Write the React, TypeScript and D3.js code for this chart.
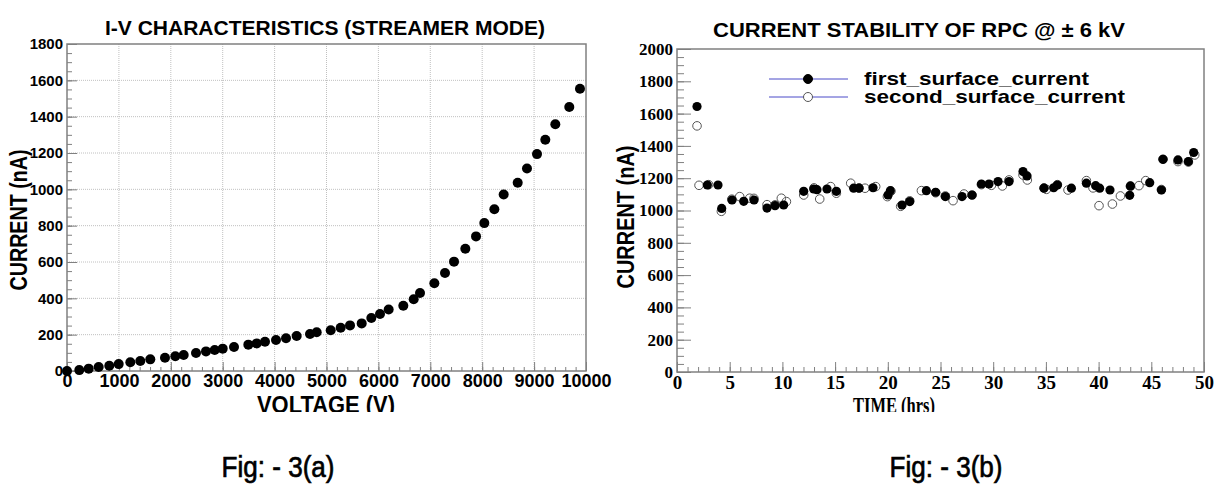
import { useEffect, useRef } from 'react';
import * as d3 from 'd3';

// Fig 3(a): I-V curve
const ivVoltage = [0, 237, 418, 610, 815, 996, 1220, 1412, 1605, 1888, 2087, 2248, 2486, 2678, 2846, 3000, 3218, 3494, 3655, 3815, 4027, 4220, 4425, 4682, 4811, 5081, 5273, 5453, 5678, 5864, 6031, 6198, 6480, 6680, 6802, 7078, 7283, 7457, 7675, 7881, 8041, 8234, 8414, 8684, 8863, 9056, 9216, 9409, 9678, 9884];
const ivCurrent = [0, 5, 13, 22, 29, 38, 48, 55, 64, 73, 81, 88, 99, 108, 116, 123, 132, 145, 152, 161, 171, 180, 193, 204, 213, 224, 238, 251, 262, 292, 314, 339, 359, 395, 429, 483, 539, 602, 673, 741, 814, 890, 972, 1036, 1115, 1194, 1273, 1358, 1453, 1554];
const ivXTicks = [0, 1000, 2000, 3000, 4000, 5000, 6000, 7000, 8000, 9000, 10000];
const ivYTicks = [0, 200, 400, 600, 800, 1000, 1200, 1400, 1600, 1800];

// Fig 3(b): current stability
const firstTime = [1.9, 2.88, 3.89, 4.24, 5.22, 6.33, 7.31, 8.54, 9.3, 10.12, 12.02, 12.97, 13.28, 14.23, 15.12, 16.76, 17.27, 18.6, 20.02, 20.24, 21.35, 22.08, 23.66, 24.54, 25.46, 27.04, 27.99, 28.88, 29.6, 30.46, 31.5, 32.83, 33.21, 34.82, 35.74, 36.09, 37.42, 38.84, 39.72, 40.1, 41.08, 42.95, 43.02, 44.85, 45.96, 46.11, 47.53, 48.52, 49.02];
const firstCurrent = [1644, 1158, 1158, 1013, 1065, 1057, 1065, 1015, 1030, 1034, 1119, 1133, 1129, 1133, 1119, 1138, 1138, 1141, 1096, 1123, 1034, 1055, 1123, 1113, 1086, 1086, 1096, 1164, 1164, 1179, 1179, 1241, 1214, 1138, 1141, 1158, 1138, 1169, 1154, 1138, 1127, 1094, 1152, 1172, 1127, 1317, 1313, 1303, 1359];
const secondTime = [1.9, 2.09, 3.0, 4.21, 5.2, 5.95, 6.9, 7.3, 8.54, 9.3, 9.9, 10.38, 12.02, 13.0, 13.54, 14.58, 15.12, 16.48, 17.27, 17.84, 18.85, 19.96, 20.3, 21.22, 22.08, 23.19, 24.54, 25.46, 26.19, 27.23, 28.0, 28.88, 29.83, 30.87, 31.5, 32.83, 33.24, 34.82, 35.05, 36.09, 37.1, 38.84, 39.47, 40.04, 41.31, 42.07, 43.02, 43.83, 44.47, 45.96, 46.11, 47.53, 48.52, 49.12];
const secondCurrent = [1524, 1156, 1160, 995, 1070, 1086, 1076, 1075, 1036, 1035, 1076, 1055, 1096, 1140, 1071, 1148, 1107, 1169, 1140, 1138, 1148, 1086, 1120, 1026, 1060, 1123, 1110, 1090, 1061, 1102, 1095, 1160, 1156, 1152, 1189, 1220, 1189, 1140, 1131, 1160, 1127, 1185, 1140, 1030, 1040, 1090, 1150, 1154, 1185, 1130, 1317, 1303, 1300, 1344];
const timeTicks = [0, 5, 10, 15, 20, 25, 30, 35, 40, 45, 50];
const stabYTicks = [0, 200, 400, 600, 800, 1000, 1200, 1400, 1600, 1800, 2000];
const legendLabels = ['first_surface_current', 'second_surface_current'];

const SANS = '"Liberation Sans", Arial, sans-serif';
const SERIF = '"Liberation Serif", "Times New Roman", serif';
const FRAME = '#808080';

export default function App() {
  const svgRef = useRef<SVGSVGElement>(null);

  useEffect(() => {
    if (!svgRef.current) return;
    const svg = d3.select(svgRef.current);
    svg.selectAll('*').remove();

    // ---------- left panel ----------
    const xL = d3.scaleLinear().domain([0, 10000]).range([67, 586]);
    const yL = d3.scaleLinear().domain([0, 1800]).range([371, 44]);

    // grid
    const grid = svg.append('g').attr('stroke', '#b0b0b0').attr('stroke-dasharray', '1,1').attr('stroke-width', 0.8);
    grid.selectAll('line.v').data(ivXTicks.slice(1, -1)).join('line')
      .attr('x1', d => xL(d)).attr('x2', d => xL(d)).attr('y1', yL(0)).attr('y2', yL(1800));
    grid.selectAll('line.h').data(ivYTicks.slice(1, -1)).join('line')
      .attr('x1', xL(0)).attr('x2', xL(10000)).attr('y1', d => yL(d)).attr('y2', d => yL(d));

    const styleAxis = (g: any, font: string, size: number) => {
      g.attr('font-family', font);
      g.select('.domain').remove();
      g.selectAll('.tick line').attr('stroke', FRAME);
      g.selectAll('text').attr('fill', '#000').attr('font-family', font).attr('font-size', size).attr('font-weight', 'bold');
    };

    svg.append('g').attr('transform', `translate(0,${yL(0)})`)
      .call(d3.axisBottom(xL).tickValues(d3.range(0, 10001, 200)).tickSize(-4).tickFormat(() => ''))
      .call((g: any) => styleAxis(g, SANS, 18));
    svg.append('g').attr('transform', `translate(0,${yL(0)})`)
      .call(d3.axisBottom(xL).tickValues(ivXTicks).tickSize(-9).tickPadding(3).tickFormat(d3.format('d')))
      .call((g: any) => styleAxis(g, SANS, 18));
    svg.append('g').attr('transform', `translate(${xL(0)},0)`)
      .call(d3.axisLeft(yL).tickValues(d3.range(0, 1801, 50)).tickSize(-5).tickFormat(() => ''))
      .call((g: any) => styleAxis(g, SANS, 15));
    svg.append('g').attr('transform', `translate(${xL(0)},0)`)
      .call(d3.axisLeft(yL).tickValues(ivYTicks).tickSize(-10).tickPadding(4).tickFormat(d3.format('d')))
      .call((g: any) => styleAxis(g, SANS, 15));

    svg.append('rect').attr('x', xL(0)).attr('y', yL(1800)).attr('width', xL(10000) - xL(0)).attr('height', yL(0) - yL(1800))
      .attr('fill', 'none').attr('stroke', FRAME).attr('stroke-width', 1.5);

    svg.append('g').selectAll('circle').data(ivVoltage).join('circle')
      .attr('cx', d => xL(d)).attr('cy', (_, i) => yL(ivCurrent[i])).attr('r', 5).attr('fill', '#000');

    svg.append('text').attr('x', 325).attr('y', 35).attr('text-anchor', 'middle')
      .attr('font-family', SANS).attr('font-size', 20).attr('font-weight', 'bold')
      .attr('textLength', 440).attr('lengthAdjust', 'spacingAndGlyphs')
      .text('I-V CHARACTERISTICS (STREAMER MODE)');
    svg.append('text').attr('transform', 'translate(27,220) rotate(-90)').attr('text-anchor', 'middle')
      .attr('font-family', SANS).attr('font-size', 24).attr('font-weight', 'bold')
      .attr('textLength', 141).attr('lengthAdjust', 'spacingAndGlyphs')
      .text('CURRENT (nA)');

    // clipped axis titles (bottom is cut in the original)
    const clip = svg.append('defs').append('clipPath').attr('id', 'xtitleclip');
    clip.append('rect').attr('x', 0).attr('y', 380).attr('width', 1225).attr('height', 32);
    svg.append('text').attr('x', 326).attr('y', 413).attr('text-anchor', 'middle').attr('clip-path', 'url(#xtitleclip)')
      .attr('font-family', SANS).attr('font-size', 24).attr('font-weight', 'bold')
      .attr('textLength', 138).attr('lengthAdjust', 'spacingAndGlyphs')
      .text('VOLTAGE (V)');

    // ---------- right panel ----------
    const xR = d3.scaleLinear().domain([0, 50]).range([677, 1204]);
    const yR = d3.scaleLinear().domain([0, 2000]).range([372, 49]);

    svg.append('g').attr('transform', `translate(0,${yR(0)})`)
      .call(d3.axisBottom(xR).tickValues(d3.range(0, 51, 1)).tickSize(-5).tickFormat(() => ''))
      .call((g: any) => styleAxis(g, SERIF, 19));
    svg.append('g').attr('transform', `translate(0,${yR(0)})`)
      .call(d3.axisBottom(xR).tickValues(timeTicks).tickSize(-10).tickPadding(3).tickFormat(d3.format('d')))
      .call((g: any) => styleAxis(g, SERIF, 19));
    svg.append('g').attr('transform', `translate(${xR(0)},0)`)
      .call(d3.axisLeft(yR).tickValues(d3.range(0, 2001, 50)).tickSize(-7).tickFormat(() => ''))
      .call((g: any) => styleAxis(g, SERIF, 17));
    svg.append('g').attr('transform', `translate(${xR(0)},0)`)
      .call(d3.axisLeft(yR).tickValues(stabYTicks).tickSize(-14).tickPadding(4).tickFormat(d3.format('d')))
      .call((g: any) => styleAxis(g, SERIF, 17));

    svg.append('rect').attr('x', xR(0)).attr('y', yR(2000)).attr('width', xR(50) - xR(0)).attr('height', yR(0) - yR(2000))
      .attr('fill', 'none').attr('stroke', FRAME).attr('stroke-width', 1.5);

    svg.append('g').selectAll('circle').data(secondTime).join('circle')
      .attr('cx', d => xR(d)).attr('cy', (_, i) => yR(secondCurrent[i])).attr('r', 4.3)
      .attr('fill', 'none').attr('stroke', '#555').attr('stroke-width', 1);
    svg.append('g').selectAll('circle').data(firstTime).join('circle')
      .attr('cx', d => xR(d)).attr('cy', (_, i) => yR(firstCurrent[i])).attr('r', 4.6).attr('fill', '#000');

    // legend
    const leg = svg.append('g');
    legendLabels.forEach((lab, i) => {
      const ly = 79 + i * 18;
      leg.append('line').attr('x1', 769).attr('x2', 848).attr('y1', ly).attr('y2', ly).attr('stroke', '#4b4bc8').attr('stroke-width', 1);
      leg.append('circle').attr('cx', 808).attr('cy', ly).attr('r', 4.5)
        .attr('fill', i === 0 ? '#000' : '#fff').attr('stroke', i === 0 ? '#000' : '#555').attr('stroke-width', 1);
      leg.append('text').attr('x', 864).attr('y', ly + 6)
        .attr('font-family', SANS).attr('font-size', 19).attr('font-weight', 'bold')
        .attr('textLength', i === 0 ? 225 : 261).attr('lengthAdjust', 'spacingAndGlyphs')
        .text(lab);
    });

    svg.append('text').attr('x', 919).attr('y', 37).attr('text-anchor', 'middle')
      .attr('font-family', SANS).attr('font-size', 20).attr('font-weight', 'bold')
      .attr('textLength', 412).attr('lengthAdjust', 'spacingAndGlyphs')
      .text('CURRENT STABILITY OF RPC @ ± 6 kV');
    svg.append('text').attr('transform', 'translate(634,217) rotate(-90)').attr('text-anchor', 'middle')
      .attr('font-family', SANS).attr('font-size', 24).attr('font-weight', 'bold')
      .attr('textLength', 143).attr('lengthAdjust', 'spacingAndGlyphs')
      .text('CURRENT (nA)');
    svg.append('text').attr('x', 894).attr('y', 413).attr('text-anchor', 'middle').attr('clip-path', 'url(#xtitleclip)')
      .attr('font-family', SERIF).attr('font-size', 24).attr('font-weight', 'bold')
      .attr('textLength', 82).attr('lengthAdjust', 'spacingAndGlyphs')
      .text('TIME (hrs)');

    // captions
    [['Fig: - 3(a)', 278], ['Fig: - 3(b)', 946]].forEach(([t, cx]) => {
      svg.append('text').attr('x', cx as number).attr('y', 477).attr('text-anchor', 'middle')
        .attr('font-family', '"Liberation Sans Narrow", ' + SANS).attr('font-size', 30)
        .attr('stroke', '#000').attr('stroke-width', 0.7)
        .attr('textLength', 113).attr('lengthAdjust', 'spacingAndGlyphs')
        .text(t as string);
    });
  }, []);

  return (
    <svg ref={svgRef} width={1225} height={489}
      style={{ position: 'absolute', left: 0, top: 0, background: '#fff' }} />
  );
}
